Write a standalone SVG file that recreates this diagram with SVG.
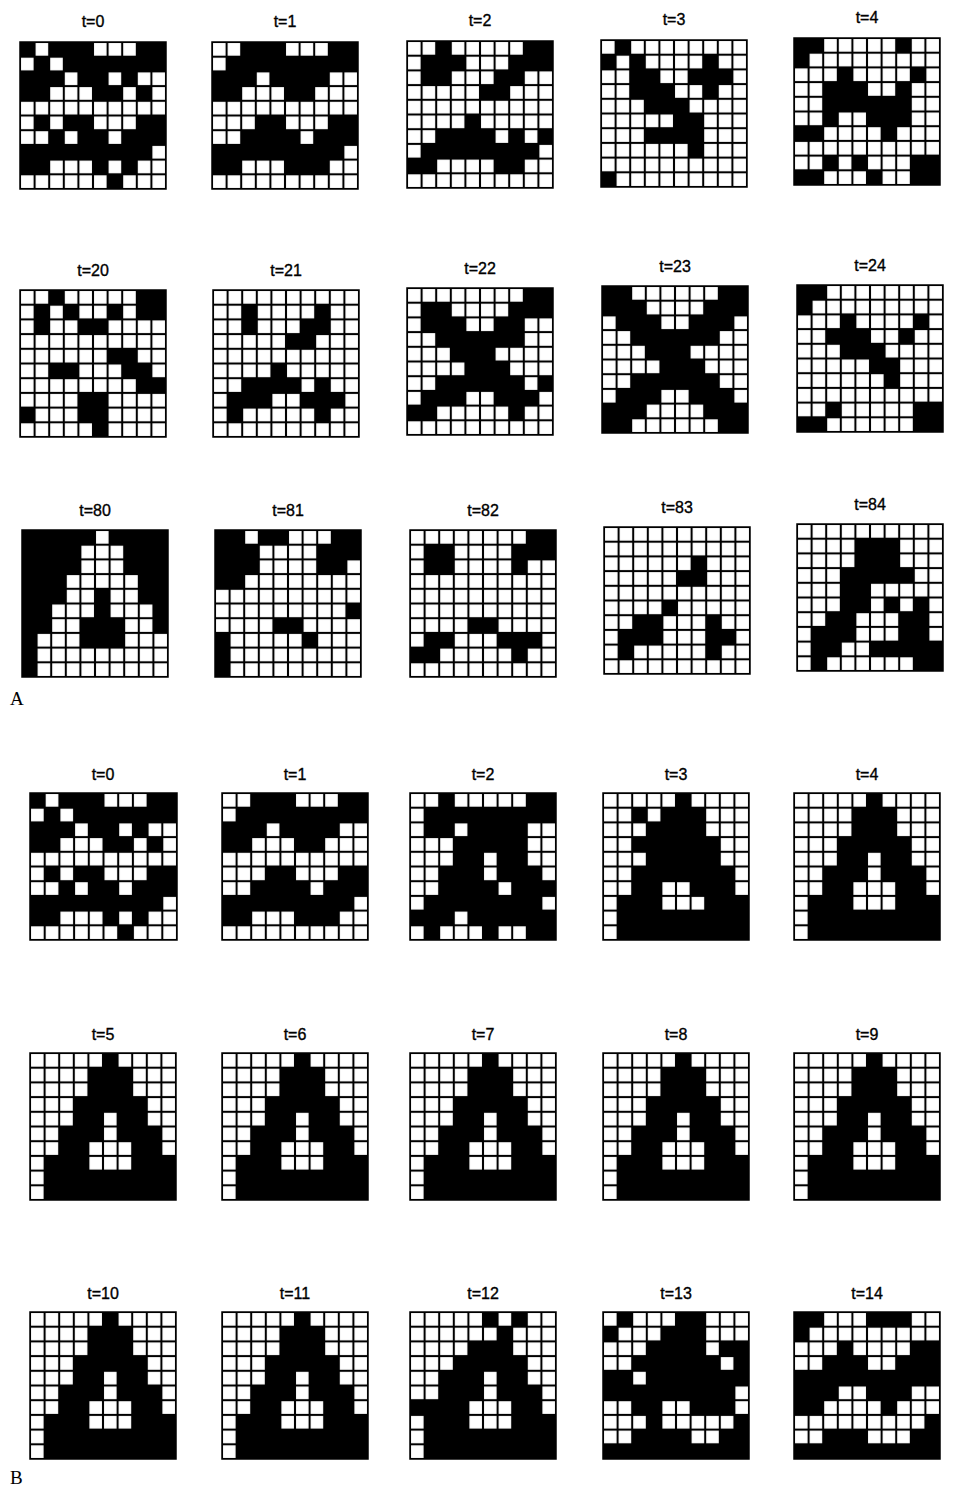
<svg xmlns="http://www.w3.org/2000/svg" xmlns:xlink="http://www.w3.org/1999/xlink" width="954" height="1489" viewBox="0 0 954 1489">
<defs>
<pattern id="cells" patternUnits="userSpaceOnUse" width="10" height="10">
<rect width="10" height="10" fill="#000"/>
<rect x="0.7" y="0.7" width="8.6" height="8.6" fill="#fff"/>
</pattern>
<path id="p0" d="M0 0h10v10h-10zM20 0h30v10h-30zM80 0h20v10h-20zM10 10h10v10h-10zM30 10h70v10h-70zM0 20h30v10h-30zM40 20h20v10h-20zM70 20h10v10h-10zM0 30h20v10h-20zM50 30h20v10h-20zM80 30h10v10h-10zM10 50h10v10h-10zM30 50h20v10h-20zM80 50h20v10h-20zM20 60h10v10h-10zM40 60h20v10h-20zM70 60h30v10h-30zM0 70h90v10h-90zM0 80h20v10h-20zM50 80h10v10h-10zM70 80h10v10h-10zM60 90h10v10h-10z"/>
<path id="p1" d="M20 0h30v10h-30zM80 0h20v10h-20zM10 10h90v10h-90zM0 20h30v10h-30zM40 20h40v10h-40zM0 30h20v10h-20zM50 30h20v10h-20zM30 50h20v10h-20zM80 50h20v10h-20zM20 60h40v10h-40zM70 60h30v10h-30zM0 70h90v10h-90zM0 80h20v10h-20zM50 80h30v10h-30z"/>
<path id="att" d="M50 0h10v10h-10zM40 10h30v20h-30zM30 30h50v10h-50zM30 40h20v10h-20zM60 40h20v10h-20zM20 50h30v10h-30zM60 50h30v10h-30zM20 60h20v10h-20zM70 60h20v10h-20zM10 70h30v10h-30zM70 70h30v10h-30zM10 80h90v20h-90z"/>
</defs>
<style>
.lbl{font-family:"Liberation Sans",Arial,sans-serif;font-size:16px;fill:#000;stroke:#000;stroke-width:0.35;text-anchor:middle}
.panel{font-family:"Liberation Serif","Times New Roman",serif;font-size:19px;fill:#000}
.grid{fill:url(#cells);stroke:#000;stroke-width:1.5;vector-effect:non-scaling-stroke}
.on{fill:#000}
</style>
<rect width="954" height="1489" fill="#fff"/>

<g id="panelA">
<g id="A-t0" transform="translate(20,42)"><text class="lbl" x="73" y="-15">t=0</text><g transform="scale(1.46,1.47)"><rect class="grid" width="100" height="100"/><use class="on" xlink:href="#p0" href="#p0"/></g></g>
<g id="A-t1" transform="translate(212,42)"><text class="lbl" x="73" y="-15">t=1</text><g transform="scale(1.46,1.47)"><rect class="grid" width="100" height="100"/><use class="on" xlink:href="#p1" href="#p1"/></g></g>
<g id="A-t2" transform="translate(407,41)"><text class="lbl" x="73" y="-15">t=2</text><g transform="scale(1.46,1.47)"><rect class="grid" width="100" height="100"/><path class="on" d="M20 0h10v10h-10zM80 0h20v10h-20zM10 10h30v10h-30zM70 10h30v10h-30zM10 20h20v10h-20zM60 20h20v10h-20zM50 30h20v10h-20zM40 50h10v10h-10zM20 60h40v10h-40zM70 60h10v10h-10zM90 60h10v10h-10zM10 70h80v10h-80zM0 80h20v10h-20zM60 80h20v10h-20z"/></g></g>
<g id="A-t3" transform="translate(601,40)"><text class="lbl" x="73" y="-15">t=3</text><g transform="scale(1.46,1.47)"><rect class="grid" width="100" height="100"/><path class="on" d="M10 0h10v10h-10zM0 10h10v10h-10zM20 10h10v10h-10zM70 10h10v10h-10zM20 20h20v10h-20zM60 20h30v10h-30zM20 30h30v10h-30zM70 30h10v10h-10zM30 40h30v10h-30zM50 50h20v10h-20zM30 60h40v10h-40zM60 70h10v10h-10zM0 90h10v10h-10z"/></g></g>
<g id="A-t4" transform="translate(794,38)"><text class="lbl" x="73" y="-15">t=4</text><g transform="scale(1.46,1.47)"><rect class="grid" width="100" height="100"/><path class="on" d="M0 0h20v10h-20zM70 0h10v10h-10zM0 10h10v10h-10zM30 20h10v10h-10zM80 20h10v10h-10zM20 30h30v10h-30zM70 30h10v10h-10zM20 40h60v10h-60zM20 50h10v10h-10zM50 50h30v10h-30zM0 60h20v10h-20zM60 60h10v10h-10zM20 80h10v10h-10zM40 80h10v10h-10zM80 80h20v10h-20zM0 90h20v10h-20zM50 90h10v10h-10zM80 90h20v10h-20z"/></g></g>

<g id="A-t20" transform="translate(20,290)"><text class="lbl" x="73" y="-14">t=20</text><g transform="scale(1.46,1.47)"><rect class="grid" width="100" height="100"/><path class="on" d="M20 0h10v10h-10zM80 0h20v10h-20zM10 10h10v10h-10zM30 10h10v10h-10zM60 10h10v10h-10zM80 10h20v10h-20zM10 20h10v10h-10zM40 20h20v10h-20zM60 40h20v10h-20zM20 50h20v10h-20zM70 50h20v10h-20zM80 60h20v10h-20zM40 70h20v10h-20zM0 80h10v10h-10zM40 80h20v10h-20zM50 90h10v10h-10z"/></g></g>
<g id="A-t21" transform="translate(213,290)"><text class="lbl" x="73" y="-14">t=21</text><g transform="scale(1.46,1.47)"><rect class="grid" width="100" height="100"/><path class="on" d="M20 10h10v10h-10zM70 10h10v10h-10zM20 20h10v10h-10zM60 20h20v10h-20zM50 30h20v10h-20zM40 50h10v10h-10zM20 60h40v10h-40zM70 60h10v10h-10zM10 70h30v10h-30zM60 70h30v10h-30zM10 80h10v10h-10zM70 80h10v10h-10z"/></g></g>
<g id="A-t22" transform="translate(407,288)"><text class="lbl" x="73" y="-14">t=22</text><g transform="scale(1.46,1.47)"><rect class="grid" width="100" height="100"/><path class="on" d="M80 0h20v10h-20zM10 10h20v10h-20zM70 10h30v10h-30zM10 20h30v10h-30zM60 20h20v10h-20zM20 30h60v10h-60zM30 40h30v10h-30zM40 50h30v10h-30zM20 60h60v10h-60zM90 60h10v10h-10zM10 70h30v10h-30zM60 70h30v10h-30zM0 80h20v10h-20zM70 80h10v10h-10z"/></g></g>
<g id="A-t23" transform="translate(602,286)"><text class="lbl" x="73" y="-14">t=23</text><g transform="scale(1.46,1.47)"><rect class="grid" width="100" height="100"/><path class="on" d="M0 0h20v10h-20zM80 0h20v10h-20zM0 10h30v10h-30zM70 10h30v10h-30zM10 20h30v10h-30zM60 20h30v10h-30zM20 30h60v10h-60zM30 40h30v10h-30zM40 50h30v10h-30zM20 60h60v10h-60zM10 70h30v10h-30zM60 70h30v10h-30zM0 80h30v10h-30zM70 80h30v10h-30zM0 90h20v10h-20zM80 90h20v10h-20z"/></g></g>
<g id="A-t24" transform="translate(797,285)"><text class="lbl" x="73" y="-14">t=24</text><g transform="scale(1.46,1.47)"><rect class="grid" width="100" height="100"/><path class="on" d="M0 0h20v10h-20zM0 10h10v10h-10zM30 20h10v10h-10zM80 20h10v10h-10zM20 30h30v10h-30zM70 30h10v10h-10zM30 40h30v10h-30zM50 50h20v10h-20zM60 60h10v10h-10zM20 80h10v10h-10zM80 80h20v10h-20zM0 90h20v10h-20zM80 90h20v10h-20z"/></g></g>

<g id="A-t80" transform="translate(22,530)"><text class="lbl" x="73" y="-14">t=80</text><g transform="scale(1.46,1.47)"><rect class="grid" width="100" height="100"/><path class="on" d="M0 0h50v10h-50zM60 0h40v10h-40zM0 10h40v20h-40zM70 10h30v20h-30zM0 30h30v10h-30zM80 30h20v10h-20zM0 40h30v10h-30zM50 40h10v10h-10zM80 40h20v10h-20zM0 50h20v10h-20zM50 50h10v10h-10zM90 50h10v10h-10zM0 60h20v10h-20zM40 60h30v10h-30zM90 60h10v10h-10zM0 70h10v10h-10zM40 70h30v10h-30zM0 80h10v20h-10z"/></g></g>
<g id="A-t81" transform="translate(215,530)"><text class="lbl" x="73" y="-14">t=81</text><g transform="scale(1.46,1.47)"><rect class="grid" width="100" height="100"/><path class="on" d="M0 0h20v10h-20zM30 0h20v10h-20zM80 0h20v10h-20zM0 10h30v10h-30zM70 10h30v10h-30zM0 20h30v10h-30zM70 20h20v10h-20zM0 30h20v10h-20zM90 50h10v10h-10zM40 60h20v10h-20zM0 70h10v10h-10zM60 70h10v10h-10zM0 80h10v20h-10z"/></g></g>
<g id="A-t82" transform="translate(410,530)"><text class="lbl" x="73" y="-14">t=82</text><g transform="scale(1.46,1.47)"><rect class="grid" width="100" height="100"/><path class="on" d="M80 0h20v10h-20zM10 10h20v10h-20zM70 10h30v10h-30zM10 20h20v10h-20zM70 20h10v10h-10zM40 60h20v10h-20zM10 70h20v10h-20zM60 70h30v10h-30zM0 80h20v10h-20zM70 80h10v10h-10z"/></g></g>
<g id="A-t83" transform="translate(604,527)"><text class="lbl" x="73" y="-14">t=83</text><g transform="scale(1.46,1.47)"><rect class="grid" width="100" height="100"/><path class="on" d="M60 20h10v10h-10zM50 30h20v10h-20zM40 50h10v10h-10zM20 60h20v10h-20zM70 60h10v10h-10zM10 70h30v10h-30zM70 70h20v10h-20zM10 80h10v10h-10zM70 80h10v10h-10z"/></g></g>
<g id="A-t84" transform="translate(797,524)"><text class="lbl" x="73" y="-14">t=84</text><g transform="scale(1.46,1.47)"><rect class="grid" width="100" height="100"/><path class="on" d="M40 10h30v20h-30zM30 30h50v10h-50zM30 40h20v10h-20zM30 50h20v10h-20zM60 50h10v10h-10zM80 50h10v10h-10zM20 60h20v10h-20zM70 60h20v10h-20zM10 70h30v10h-30zM70 70h20v10h-20zM10 80h20v10h-20zM50 80h50v10h-50zM10 90h10v10h-10zM80 90h20v10h-20z"/></g></g>
<text class="panel" x="10" y="705">A</text>
</g>

<g id="panelB">
<g id="B-t0" transform="translate(30,793)"><text class="lbl" x="73" y="-13">t=0</text><g transform="scale(1.47,1.47)"><rect class="grid" width="100" height="100"/><use class="on" xlink:href="#p0" href="#p0"/></g></g>
<g id="B-t1" transform="translate(222,793)"><text class="lbl" x="73" y="-13">t=1</text><g transform="scale(1.46,1.47)"><rect class="grid" width="100" height="100"/><use class="on" xlink:href="#p1" href="#p1"/></g></g>
<g id="B-t2" transform="translate(410,793)"><text class="lbl" x="73" y="-13">t=2</text><g transform="scale(1.46,1.47)"><rect class="grid" width="100" height="100"/><path class="on" d="M20 0h10v10h-10zM80 0h20v10h-20zM10 10h90v10h-90zM10 20h20v10h-20zM40 20h40v10h-40zM30 30h50v10h-50zM30 40h20v10h-20zM60 40h20v10h-20zM20 50h30v10h-30zM60 50h30v10h-30zM20 60h40v10h-40zM70 60h30v10h-30zM10 70h80v10h-80zM0 80h30v10h-30zM40 80h60v10h-60zM10 90h10v10h-10zM50 90h10v10h-10zM80 90h20v10h-20z"/></g></g>
<g id="B-t3" transform="translate(603,793)"><text class="lbl" x="73" y="-13">t=3</text><g transform="scale(1.46,1.47)"><rect class="grid" width="100" height="100"/><path class="on" d="M50 0h10v10h-10zM20 10h10v10h-10zM40 10h30v10h-30zM30 20h40v10h-40zM20 30h60v10h-60zM30 40h50v10h-50zM20 50h70v10h-70zM20 60h20v10h-20zM60 60h30v10h-30zM10 70h30v10h-30zM70 70h30v10h-30zM10 80h90v20h-90z"/></g></g>
<g id="B-t4" transform="translate(794,793)"><text class="lbl" x="73" y="-13">t=4</text><g transform="scale(1.46,1.47)"><rect class="grid" width="100" height="100"/><use class="on" xlink:href="#att" href="#att"/></g></g>

<g id="B-t5" transform="translate(30,1053)"><text class="lbl" x="73" y="-13">t=5</text><g transform="scale(1.46,1.47)"><rect class="grid" width="100" height="100"/><use class="on" xlink:href="#att" href="#att"/></g></g>
<g id="B-t6" transform="translate(222,1053)"><text class="lbl" x="73" y="-13">t=6</text><g transform="scale(1.46,1.47)"><rect class="grid" width="100" height="100"/><use class="on" xlink:href="#att" href="#att"/></g></g>
<g id="B-t7" transform="translate(410,1053)"><text class="lbl" x="73" y="-13">t=7</text><g transform="scale(1.46,1.47)"><rect class="grid" width="100" height="100"/><use class="on" xlink:href="#att" href="#att"/></g></g>
<g id="B-t8" transform="translate(603,1053)"><text class="lbl" x="73" y="-13">t=8</text><g transform="scale(1.46,1.47)"><rect class="grid" width="100" height="100"/><use class="on" xlink:href="#att" href="#att"/></g></g>
<g id="B-t9" transform="translate(794,1053)"><text class="lbl" x="73" y="-13">t=9</text><g transform="scale(1.46,1.47)"><rect class="grid" width="100" height="100"/><use class="on" xlink:href="#att" href="#att"/></g></g>

<g id="B-t10" transform="translate(30,1312)"><text class="lbl" x="73" y="-13">t=10</text><g transform="scale(1.46,1.47)"><rect class="grid" width="100" height="100"/><use class="on" xlink:href="#att" href="#att"/></g></g>
<g id="B-t11" transform="translate(222,1312)"><text class="lbl" x="73" y="-13">t=11</text><g transform="scale(1.46,1.47)"><rect class="grid" width="100" height="100"/><use class="on" xlink:href="#att" href="#att"/></g></g>
<g id="B-t12" transform="translate(410,1312)"><text class="lbl" x="73" y="-13">t=12</text><g transform="scale(1.46,1.47)"><rect class="grid" width="100" height="100"/><path class="on" d="M50 0h10v10h-10zM70 0h10v10h-10zM60 10h10v10h-10zM40 20h30v10h-30zM30 30h50v10h-50zM20 40h30v10h-30zM60 40h20v10h-20zM20 50h30v10h-30zM60 50h30v10h-30zM0 60h40v10h-40zM70 60h20v10h-20zM10 70h30v10h-30zM70 70h30v10h-30zM10 80h90v20h-90z"/></g></g>
<g id="B-t13" transform="translate(603,1312)"><text class="lbl" x="73" y="-13">t=13</text><g transform="scale(1.46,1.47)"><rect class="grid" width="100" height="100"/><path class="on" d="M10 0h10v10h-10zM50 0h20v10h-20zM0 10h10v10h-10zM40 10h30v10h-30zM30 20h40v10h-40zM80 20h20v10h-20zM20 30h60v10h-60zM90 30h10v10h-10zM0 40h20v10h-20zM30 40h70v10h-70zM0 50h90v10h-90zM20 60h20v10h-20zM60 60h30v10h-30zM30 70h10v10h-10zM90 70h10v10h-10zM20 80h40v10h-40zM80 80h20v10h-20zM0 90h100v10h-100z"/></g></g>
<g id="B-t14" transform="translate(794,1312)"><text class="lbl" x="73" y="-13">t=14</text><g transform="scale(1.46,1.47)"><rect class="grid" width="100" height="100"/><path class="on" d="M0 0h20v10h-20zM50 0h30v10h-30zM0 10h10v10h-10zM30 20h10v10h-10zM80 20h20v10h-20zM20 30h30v10h-30zM70 30h30v10h-30zM0 40h100v10h-100zM0 50h30v10h-30zM50 50h30v10h-30zM0 60h20v10h-20zM60 60h10v10h-10zM90 70h10v10h-10zM20 80h30v10h-30zM80 80h20v10h-20zM0 90h100v10h-100z"/></g></g>
<text class="panel" x="10" y="1484">B</text>
</g>

<g id="connectors"/>
</svg>
